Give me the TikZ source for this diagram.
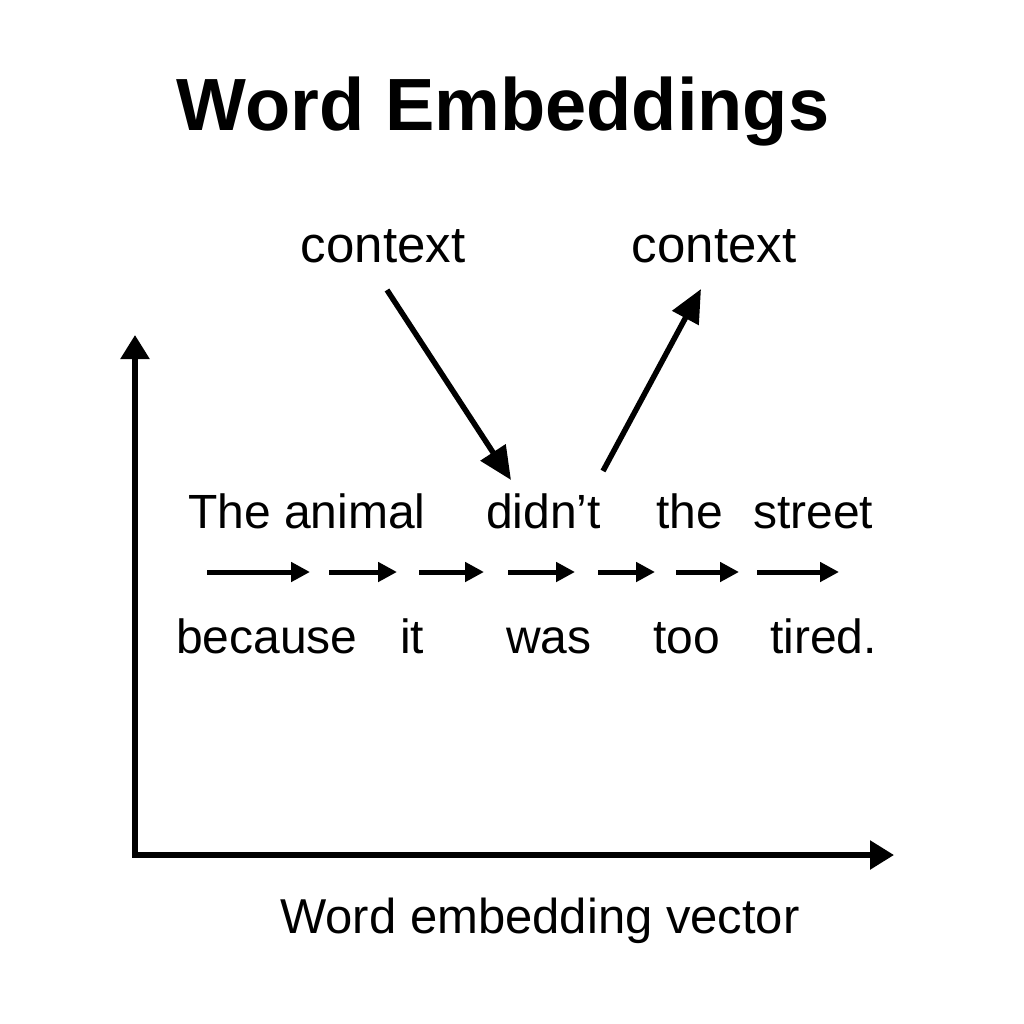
\documentclass[tikz,border=0pt]{standalone}
\usepackage{fontspec}
\setmainfont{Liberation Sans}
\usetikzlibrary{arrows.meta}
\tikzset{
  word/.style={anchor=base west, inner sep=0pt, font=\fontsize{48}{56}\selectfont},
  ctx/.style={anchor=base, inner sep=0pt, font=\fontsize{51}{60}\selectfont},
  seqarrow/.style={line width=5pt, -{Triangle[length=19pt,width=19pt]}},
  ctxarrow/.style={line width=5.5pt, -{Triangle[length=33pt,width=29pt]}},
  axisline/.style={line width=5.5pt, -{Triangle[length=24pt,width=28pt]}}
}
\begin{document}
\begin{tikzpicture}[x=1pt,y=-1pt]
\useasboundingbox (0,0) rectangle (1024,1024);
\fill[white] (0,0) rectangle (1024,1024);
% title
\node[anchor=base, inner sep=0pt, font=\fontsize{74}{84}\selectfont\bfseries] (title) at (503,131) {Word Embeddings};
% context labels
\node[ctx] (ctxL) at (383,262) {context};
\node[ctx] (ctxR) at (714,262) {context};
\coordinate (aLs) at (387,290);
\coordinate (aLe) at (511,480);
\coordinate (aRs) at (603,471);
\coordinate (aRe) at (701,289);
\draw[ctxarrow] (aLs) -- (aLe);
\draw[ctxarrow] (aRs) -- (aRe);
% row 1
\node[word] (w1) at (188,528) {The animal};
\node[word] (w2) at (486,528) {didn’t};
\node[word] (w3) at (656,528) {the};
\node[word] (w4) at (753,528) {street};
% arrows row
\foreach \a/\b [count=\i] in {207/310,329/397,419/484,508/575,598/655,676/739,757/839}{
  \coordinate (s\i) at (\a,572);
  \coordinate (e\i) at (\b,572);
  \draw[seqarrow] (s\i) -- (e\i);
}
% row 2
\node[word] (v1) at (176,653) {because};
\node[word] (v2) at (400,653) {it};
\node[word] (v3) at (506,653) {was};
\node[word] (v4) at (653,653) {too};
\node[word] (v5) at (770,653) {tired.};
% axes
\coordinate (origin) at (135,855);
\coordinate (ytip) at (135,335);
\coordinate (xtip) at (894,855);
\draw[axisline] ([yshift=2.75pt]origin) -- (ytip);
\draw[axisline] ([xshift=-2.75pt]origin) -- (xtip);
\node[anchor=base, inner sep=0pt, font=\fontsize{49}{58}\selectfont] (xlabel) at (540,933) {Word embedding vector};
\end{tikzpicture}
\end{document}
